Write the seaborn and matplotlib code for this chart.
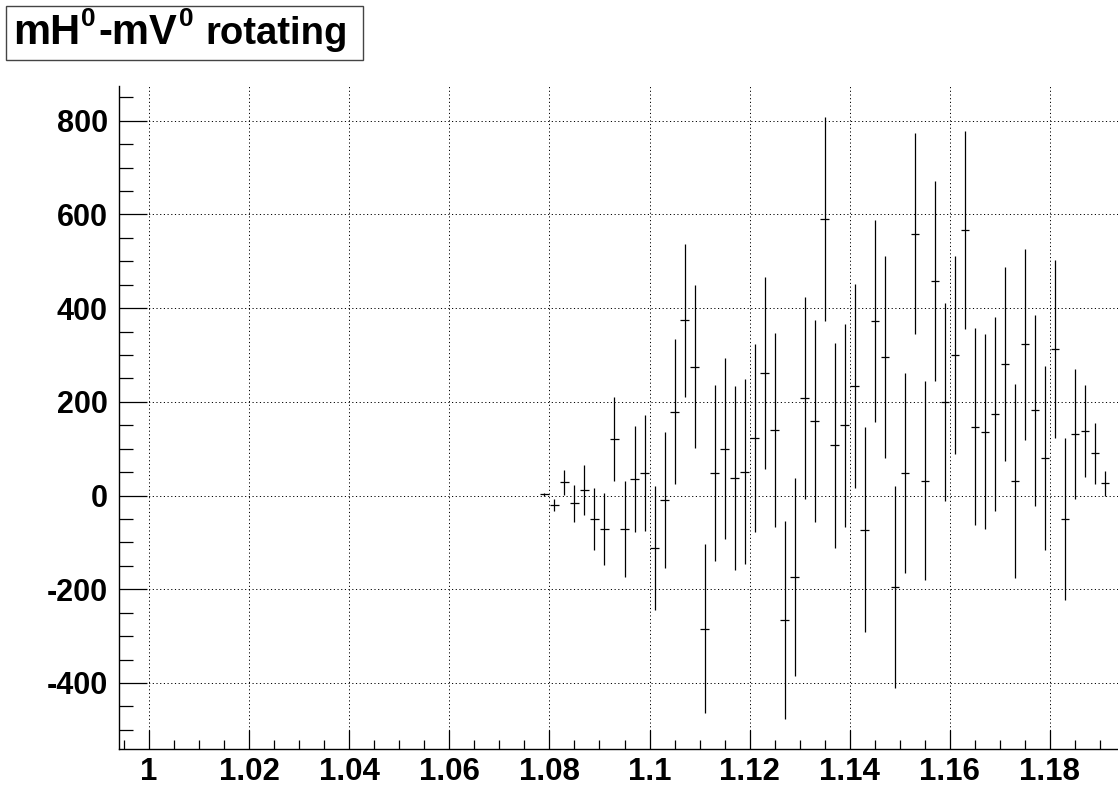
import numpy as np
import matplotlib
matplotlib.use("Agg")
import matplotlib.pyplot as plt
from matplotlib.patches import Rectangle
from matplotlib.ticker import MultipleLocator, FixedLocator
import seaborn as sns

# ---- data ----
bin_centers = [1.079 + 0.002 * i for i in range(57)]
values = [3, -20, 28, -17, 12, -50, -72, 121, -72, 36,
          48, -112, -10, 179, 374, 275, -284, 48, 100, 38,
          51, 123, 262, 139, -266, -174, 208, 159, 590, 107,
          150, 234, -73, 373, 295, -195, 48, 559, 32, 458,
          199, 300, 566, 147, 136, 173, 281, 32, 323, 182,
          80, 312, -50, 131, 137, 90, 26]
errors = [3, 12, 27, 40, 53, 66, 77, 90, 102, 113,
          124, 133, 145, 155, 163, 174, 181, 187, 193, 196,
          198, 201, 205, 207, 211, 212, 215, 216, 218, 218,
          217, 217, 219, 216, 216, 215, 214, 214, 213, 213,
          211, 211, 211, 210, 208, 207, 207, 207, 204, 204,
          197, 190, 173, 139, 98, 65, 26]
x_ticks = [1.00, 1.02, 1.04, 1.06, 1.08, 1.10, 1.12, 1.14, 1.16, 1.18]
x_tick_labels = ["1", "1.02", "1.04", "1.06", "1.08", "1.1", "1.12", "1.14", "1.16", "1.18"]
y_ticks = [-400, -200, 0, 200, 400, 600, 800]
title_parts = ["mH", "0", "-mV", "0", "rotating"]

sns.set_theme(style="white")
plt.rcParams["font.family"] = ["Liberation Sans", "DejaVu Sans"]
plt.rcParams["font.weight"] = "bold"

W, H = 1118, 787
fig = plt.figure(figsize=(W / 100, H / 100), dpi=100)
fig.patch.set_facecolor("white")

left_px, right_px, top_px, bottom_px = 119, 1118, 86, 749
ax = fig.add_axes([left_px / W, 1 - bottom_px / H,
                   (right_px - left_px) / W, (bottom_px - top_px) / H])
ax.set_facecolor("white")

ax.errorbar(bin_centers, values, yerr=errors, xerr=0.00085, fmt="none",
            ecolor="black", elinewidth=0.9, capsize=0, zorder=3)

ax.set_xlim(0.9940, 1.1936)
ax.set_ylim(-541, 874)

ax.xaxis.set_major_locator(FixedLocator(x_ticks))
ax.set_xticklabels(x_tick_labels)
ax.xaxis.set_minor_locator(MultipleLocator(0.005))
ax.yaxis.set_major_locator(FixedLocator(y_ticks))
ax.set_yticklabels([str(v) for v in y_ticks])
ax.yaxis.set_minor_locator(MultipleLocator(50))

ax.tick_params(axis="both", which="both", direction="in", color="black",
               width=0.9, labelcolor="black",
               bottom=True, left=True, top=False, right=False)
ax.tick_params(axis="x", which="major", length=13.5, pad=6, labelsize=22.5)
ax.tick_params(axis="x", which="minor", length=6.8)
ax.tick_params(axis="y", which="major", length=20, pad=8, labelsize=22)
ax.tick_params(axis="y", which="minor", length=10)
for lab in ax.get_xticklabels() + ax.get_yticklabels():
    lab.set_fontweight("bold")

ax.grid(True, which="major", color="black", linestyle=(0, (1.2, 2.6)), linewidth=0.7)
ax.set_axisbelow(True)

for s in ["top", "right"]:
    ax.spines[s].set_visible(False)
for s in ["left", "bottom"]:
    ax.spines[s].set_visible(True)
    ax.spines[s].set_color("black")
    ax.spines[s].set_linewidth(1.0)

# title box
fig.patches.append(Rectangle((6 / W, 1 - 60 / H), (363 - 6) / W, (60 - 6) / H,
                             transform=fig.transFigure, facecolor="white",
                             edgecolor="#444444", linewidth=1.0))
# pieces: (x_px, baseline_px, fontsize)
placements = [(13, 44, 30), (81, 26, 19), (98, 44, 30), (179, 26, 19), (205, 44, 27.5)]
for txt, (xp, yp, fs) in zip(title_parts, placements):
    fig.text(xp / W, 1 - yp / H, txt, fontsize=fs, fontweight="bold",
             ha="left", va="baseline", color="black")

fig.savefig("out.png", dpi=100, facecolor="white")
